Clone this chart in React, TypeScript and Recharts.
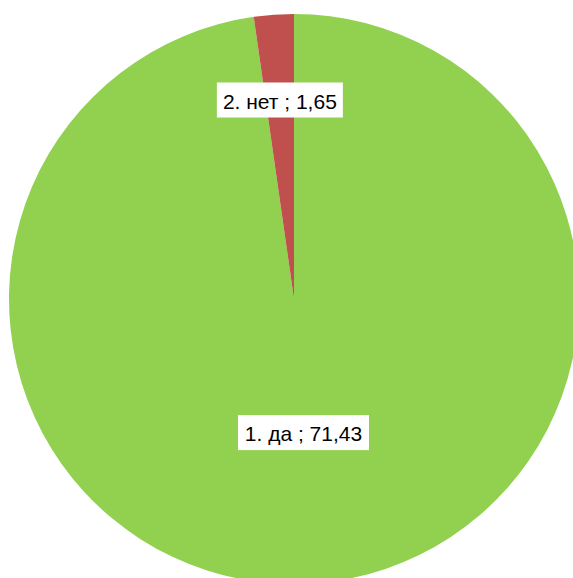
import React from "react";
import { PieChart, Pie, Cell } from "recharts";

const categories = ["1. да", "2. нет"];
const values = [71.43, 1.65];
const colors = ["#92D050", "#C0504D"];
const labelTexts = ["1. да ; 71,43", "2. нет ; 1,65"];
const labelRadiusFactors = [0.47, 0.7];
const boxWidths = [131, 126];

const data = categories.map((name, i) => ({ name, value: values[i] }));

const RADIAN = Math.PI / 180;

const renderLabel = (props: any) => {
  const { cx, cy, midAngle, outerRadius, index } = props;
  const r = outerRadius * labelRadiusFactors[index];
  const x = cx + r * Math.cos(-midAngle * RADIAN);
  const y = cy + r * Math.sin(-midAngle * RADIAN);
  const w = boxWidths[index];
  const h = 35;
  return (
    <g>
      <rect x={x - w / 2} y={y - h / 2} width={w} height={h} fill="#ffffff" />
      <text
        x={x}
        y={y + 1}
        textAnchor="middle"
        dominantBaseline="central"
        fontFamily="Liberation Sans, Arial, sans-serif"
        fontSize={21}
        fill="#000000"
      >
        {labelTexts[index]}
      </text>
    </g>
  );
};

export default function App() {
  return (
    <div style={{ position: "absolute", left: 0, top: 0, width: 573, height: 578, background: "#fff", overflow: "hidden" }}>
      <PieChart width={573} height={578} margin={{ top: 0, right: 0, bottom: 0, left: 0 }}>
        <Pie
          data={data}
          dataKey="value"
          nameKey="name"
          cx={294}
          cy={299}
          outerRadius={285}
          startAngle={90}
          endAngle={-270}
          stroke="none"
          label={renderLabel}
          labelLine={false}
          isAnimationActive={false}
        >
          {data.map((d, i) => (
            <Cell key={d.name} fill={colors[i]} />
          ))}
        </Pie>
      </PieChart>
    </div>
  );
}
